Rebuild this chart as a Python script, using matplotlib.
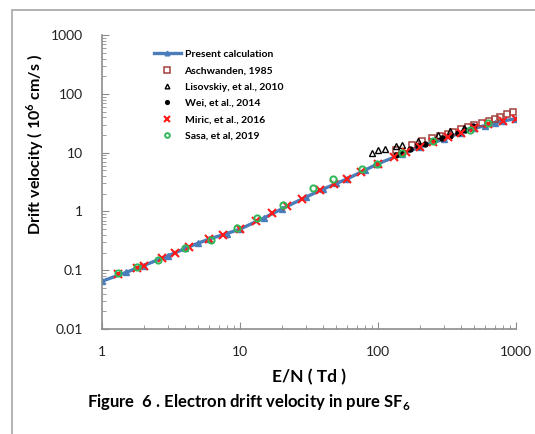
import numpy as np
import matplotlib
matplotlib.use("Agg")
import matplotlib.pyplot as plt
from matplotlib.patches import Rectangle

plt.rcParams['font.family'] = ['Lato', 'DejaVu Sans']
plt.rcParams['mathtext.fontset'] = 'custom'
plt.rcParams['mathtext.rm'] = 'Lato'
plt.rcParams['mathtext.bf'] = 'Lato:bold'

# present calculation
calc_en = [1, 1.5, 2, 3, 4, 5, 6, 8, 10, 15, 20, 30, 40, 50, 60, 80, 100,
           150, 200, 300, 400, 500, 600, 700, 800, 1000]
calc_w = [0.065, 0.092, 0.12, 0.175, 0.235, 0.29, 0.34, 0.42, 0.5, 0.78, 1.1,
          1.75, 2.4, 3.0, 3.6, 5.0, 6.5, 9.5, 12.5, 17, 22, 26, 29, 32, 34.5, 38]

# Aschwanden, 1985
asch_en = [135, 175, 210, 245, 280, 320, 350, 400, 450, 500, 570, 640, 700,
           770, 860, 950]
asch_w = [11, 13.5, 15.5, 17.5, 19.5, 21, 22.5, 25, 27.5, 29.5, 32.5, 35, 38,
          41, 45, 49]

# Lisovskiy, et al., 2010
lis_en = [90, 100, 112, 135, 148, 195, 270, 330, 420]
lis_w = [10, 11, 11.5, 13, 13.5, 15.5, 20, 23, 26]

# Wei, et al., 2014
wei_en = [135, 150, 170, 195, 220, 250, 290, 330, 380, 430, 490]
wei_w = [9, 10, 11.5, 12.8, 14, 15.5, 17.5, 19.5, 22, 24.5, 28]

# Miric, et al., 2016
mir_en = [1.3, 1.8, 2.0, 2.7, 3.4, 4.3, 6, 7.5, 10, 13, 17, 22, 28, 38, 48,
          60, 75, 100, 130, 160, 200, 250, 320, 400, 500, 630, 800, 1000]
mir_w = [0.085, 0.11, 0.12, 0.16, 0.2, 0.25, 0.34, 0.4, 0.5, 0.7, 0.95, 1.25,
         1.6, 2.3, 2.9, 3.6, 4.7, 6.5, 8.4, 10.2, 12.5, 15, 18.5, 22, 26,
         30.5, 34.5, 38]

# Sasa, et al, 2019
sasa_en = [1.3, 1.8, 2.55, 4.0, 6.2, 9.5, 13.3, 20.5, 34, 47, 76, 98, 150,
           250, 465, 625]
sasa_w = [0.088, 0.112, 0.15, 0.24, 0.33, 0.53, 0.78, 1.3, 2.5, 3.5, 5.2,
          6.5, 10, 15.6, 24.7, 31.5]

fig = plt.figure(figsize=(5.35, 4.34), dpi=100)
ax = fig.add_axes([0.1907, 0.242, 0.7738, 0.677])

ax.plot(calc_en, calc_w, color='#4a7ebb', lw=2.4, marker='^', ms=4.5,
        label='Present calculation', zorder=2)
ax.plot(asch_en, asch_w, ls='none', marker='s', ms=5, mfc='none',
        mec='#a3413e', mew=1.1, label='Aschwanden, 1985', zorder=3)
ax.plot(lis_en, lis_w, ls='none', marker='^', ms=4.5, mfc='none',
        mec='black', mew=1.0, label='Lisovskiy, et al., 2010', zorder=3)
ax.plot(wei_en, wei_w, ls='none', marker='o', ms=3.6, color='black',
        label='Wei, et al., 2014', zorder=3)
ax.plot(mir_en, mir_w, ls='none', marker='x', ms=6, mew=1.5, color='#ff1a1a',
        label='Miric, et al., 2016', zorder=4)
ax.plot(sasa_en, sasa_w, ls='none', marker='o', ms=4.5, mfc='none',
        mec='#2fb85a', mew=1.4, label='Sasa, et al, 2019', zorder=5)

ax.set_xscale('log')
ax.set_yscale('log')
ax.set_xlim(1, 1000)
ax.set_ylim(0.01, 1000)
ax.set_xticks([1, 10, 100, 1000])
ax.set_xticklabels(['1', '10', '100', '1000'])
ax.set_yticks([0.01, 0.1, 1, 10, 100, 1000])
ax.set_yticklabels(['0.01', '0.1', '1', '10', '100', '1000'])

for s in ['top', 'right']:
    ax.spines[s].set_visible(False)
for s in ['left', 'bottom']:
    ax.spines[s].set_color('#8c8c8c')
    ax.spines[s].set_linewidth(1.2)
ax.tick_params(which='both', direction='in', color='#8c8c8c', labelsize=10,
               labelcolor='#222222')
ax.tick_params(which='major', length=5)
ax.tick_params(which='minor', length=3)
ax.tick_params(axis='x', which='both', pad=12)
ax.tick_params(axis='y', which='both', pad=14)

ax.set_xlabel('E/N ( Td )', fontsize=12.5, fontweight='bold', labelpad=8)
fig.text(35 / 535, 1 - 144 / 434, r'Drift velocity ( 10$^\mathbf{6}$ cm/s )',
         rotation=90, ha='center', va='center', fontsize=11.5,
         fontweight='bold')

leg = ax.legend(loc='upper left', bbox_to_anchor=(0.115, 0.965),
                frameon=False, prop={'size': 7.5, 'weight': 'bold'},
                handlelength=2.6, markerscale=0.75, labelspacing=0.68,
                handletextpad=0.35, borderaxespad=0)

fig.text(87 / 535, 1 - 402 / 434,
         r'Figure  6 . Electron drift velocity in pure SF$_\mathbf{6}$',
         ha='left', va='center', fontsize=12, fontweight='bold')

# outer frame
fig.patches.append(Rectangle((12 / 535, -0.1), 1.2, 1 - 10 / 434 + 0.1,
                             transform=fig.transFigure, fill=False,
                             edgecolor='#a6a6a6', lw=1.2, clip_on=False))

fig.savefig('out.png', dpi=100)
